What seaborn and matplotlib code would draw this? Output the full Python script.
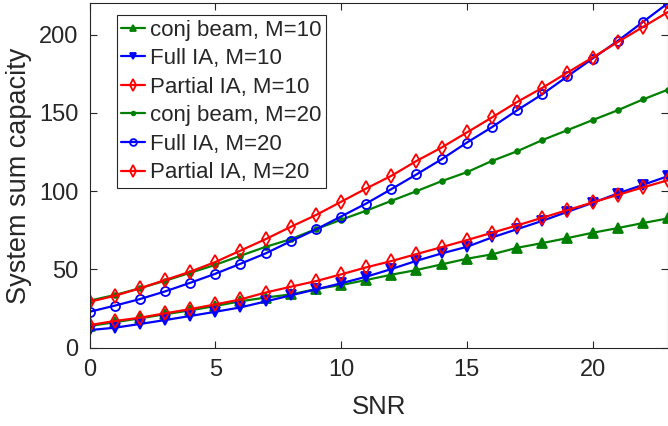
import numpy as np
import pandas as pd
import seaborn as sns
import matplotlib
matplotlib.use("Agg")
import matplotlib.pyplot as plt

snr = list(range(0, 24))

conj_m10 = [13.8, 16.2, 18.7, 21.3, 23.8, 26.6, 29.6, 32.0, 34.0, 37.4, 40.0, 43.2,
            46.6, 49.6, 53.2, 56.8, 59.6, 63.8, 66.8, 70.0, 73.4, 76.4, 79.6, 82.6]
full_m10 = [11.2, 12.7, 15.1, 17.6, 20.2, 22.9, 25.7, 29.5, 33.4, 37.2, 41.1, 45.3,
            50.2, 55.5, 60.2, 64.4, 70.4, 75.7, 81.0, 86.8, 92.5, 98.5, 104.0, 109.6]
part_m10 = [14.4, 17.0, 19.1, 21.9, 24.6, 27.6, 30.8, 35.2, 38.9, 42.5, 46.8, 51.3,
            55.3, 59.8, 64.2, 68.7, 73.4, 78.1, 83.0, 87.9, 92.8, 97.6, 102.4, 107.0]
conj_m20 = [30.0, 33.6, 37.9, 42.7, 47.8, 52.9, 58.7, 64.4, 69.3, 75.7, 81.7, 87.5,
            93.8, 100.0, 106.4, 112.1, 119.3, 125.5, 132.6, 139.0, 145.4, 151.7, 158.6, 164.9]
full_m20 = [22.9, 26.8, 31.0, 35.9, 41.4, 47.2, 53.6, 60.2, 68.0, 75.5, 83.8, 92.1,
            101.3, 110.7, 120.4, 131.0, 140.9, 151.7, 161.9, 173.4, 184.7, 196.0, 208.1, 220.2]
part_m20 = [29.3, 33.1, 37.9, 43.2, 48.5, 54.7, 62.0, 69.3, 77.2, 84.7, 93.2, 101.7,
            109.8, 119.3, 127.9, 137.5, 147.1, 157.0, 166.0, 175.8, 185.4, 195.3, 204.9, 214.5]

labels = ["conj beam, M=10", "Full IA, M=10", "Partial IA, M=10",
          "conj beam, M=20", "Full IA, M=20", "Partial IA, M=20"]
xticks = [0, 5, 10, 15, 20]
yticks = [0, 50, 100, 150, 200]

sns.set_style("ticks")
plt.rcParams['font.family'] = ['Liberation Sans', 'DejaVu Sans']

GREEN = "#008000"
BLUE = "#0000ff"
RED = "#ff0000"

styles = [
    (conj_m10, GREEN, "^", GREEN, 6.5),
    (full_m10, BLUE, "v", BLUE, 6.5),
    (part_m10, RED, "d", "none", 7.5),
    (conj_m20, GREEN, "o", GREEN, 3.5),
    (full_m20, BLUE, "o", "none", 6.5),
    (part_m20, RED, "d", "none", 7.5),
]

fig = plt.figure(figsize=(6.68, 4.26), dpi=100)
ax = fig.add_axes([0.134, 0.184, 0.866, 0.808])

for (vals, col, mk, mfc, ms), lab in zip(styles, labels):
    sns.lineplot(x=snr, y=vals, ax=ax, color=col, marker=mk, markersize=ms,
                 markerfacecolor=mfc, markeredgecolor=col, markeredgewidth=1.3,
                 linewidth=1.6, label=lab)

ax.set_xlim(0, 23)
ax.set_ylim(0, 220)
ax.set_xticks(xticks)
ax.set_yticks(yticks)
ax.tick_params(direction="in", length=5, width=0.8, colors="#262626",
               labelsize=17, top=True, right=True, pad=8)
for s in ax.spines.values():
    s.set_color("#262626")
    s.set_linewidth(0.8)
ax.set_xlabel("SNR", fontsize=18.5, color="#262626", labelpad=10)
ax.set_ylabel("System sum capacity", fontsize=19.5, color="#262626", labelpad=5)

leg = ax.legend(loc="upper left", bbox_to_anchor=(0.0475, 0.966), fontsize=16,
                frameon=True, fancybox=False, edgecolor="#262626", framealpha=1,
                handlelength=1.08, handletextpad=0.19, borderpad=0.2,
                labelspacing=0.34, borderaxespad=0, markerscale=0.75)
leg.get_frame().set_linewidth(0.8)

fig.savefig("out.png", dpi=100)
